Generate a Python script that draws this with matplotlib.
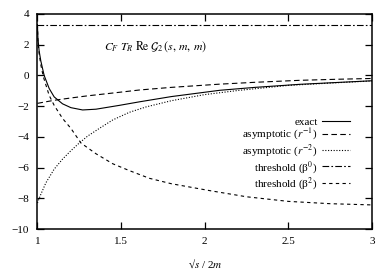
import numpy as np
import matplotlib
matplotlib.use("Agg")
import matplotlib.pyplot as plt

plt.rcParams['font.family'] = ['Liberation Serif', 'DejaVu Serif']
plt.rcParams['mathtext.fontset'] = 'stix'

# values
x_exact = [1.0, 1.003, 1.01, 1.02, 1.04, 1.07, 1.1, 1.15, 1.2, 1.27, 1.35,
           1.49, 1.61, 1.8, 2.09, 2.3, 2.57, 3.0]
y_exact = [3.3, 2.4, 1.6, 0.95, 0.0, -0.85, -1.4, -1.85, -2.1, -2.25, -2.2,
           -1.95, -1.72, -1.38, -0.97, -0.78, -0.58, -0.35]

x_asym1 = [1.0, 1.1, 1.2, 1.3, 1.49, 1.61, 1.8, 2.09, 2.3, 2.57, 2.8, 3.0]
y_asym1 = [-1.82, -1.62, -1.47, -1.33, -1.1, -0.95, -0.78, -0.57, -0.45, -0.32, -0.25, -0.2]

x_asym2 = [1.0, 1.02, 1.05, 1.1, 1.15, 1.2, 1.25, 1.3, 1.37, 1.45, 1.55, 1.65,
           1.8, 2.0, 2.2, 2.5, 2.75, 3.0]
y_asym2 = [-8.3, -7.75, -7.0, -6.1, -5.45, -4.9, -4.4, -3.95, -3.45, -2.9, -2.4, -2.05,
           -1.65, -1.25, -0.98, -0.65, -0.5, -0.36]

thr0 = 3.3

x_thr2 = [1.0, 1.003, 1.005, 1.01, 1.02, 1.035, 1.07, 1.1, 1.15, 1.2, 1.26, 1.35,
          1.45, 1.55, 1.67, 1.8, 2.03, 2.25, 2.5, 2.75, 3.0]
y_thr2 = [3.3, 2.26, 1.97, 1.43, 0.7, -0.08, -1.3, -1.95, -2.8, -3.45, -4.4, -5.1,
          -5.75, -6.2, -6.7, -7.05, -7.5, -7.9, -8.2, -8.35, -8.43]

fig = plt.figure(figsize=(3.9, 2.73), dpi=100)
ax = fig.add_axes([0.096, 0.161, 0.858, 0.788])

lw = 0.8
ax.plot(x_exact, y_exact, color='black', lw=lw, label='exact')
ax.plot(x_asym1, y_asym1, color='black', lw=lw, dashes=(5, 3), label='asymptotic ($r^{-1}$)')
ax.plot(x_asym2, y_asym2, color='black', lw=lw, dashes=(1, 1.5), label='asymptotic ($r^{-2}$)')
ax.axhline(thr0, color='black', lw=lw, dashes=(6, 2, 1.5, 2), label='threshold (\u03b2$^0$)')
ax.plot(x_thr2, y_thr2, color='black', lw=lw, dashes=(3, 3), label='threshold (\u03b2$^2$)')

ax.set_xlim(1, 3)
ax.set_ylim(-10, 4)
ax.set_xticks([1, 1.5, 2, 2.5, 3])
ax.set_xticklabels(['1', '1.5', '2', '2.5', '3'])
ax.set_yticks(range(-10, 5, 2))
ax.tick_params(direction='in', length=5, width=0.9, labelsize=8,
               top=True, right=True, pad=6)
for s in ax.spines.values():
    s.set_linewidth(1.1)

ax.set_xlabel('\u221a$s$ / 2$m$', fontsize=8, labelpad=8)

ax.text(0.2, 0.846, r'$C_F\ T_R\ \mathrm{Re}\ \mathcal{G}_2\,(s,\, m,\, m)$',
        transform=ax.transAxes, fontsize=8.5, ha='left', va='center')

leg = ax.legend(loc='center right', bbox_to_anchor=(0.95, 0.345), frameon=False,
                fontsize=8, markerfirst=False, handlelength=2.5, handletextpad=0.4,
                labelspacing=0.0, borderpad=0)

fig.savefig('out.png', dpi=100)
